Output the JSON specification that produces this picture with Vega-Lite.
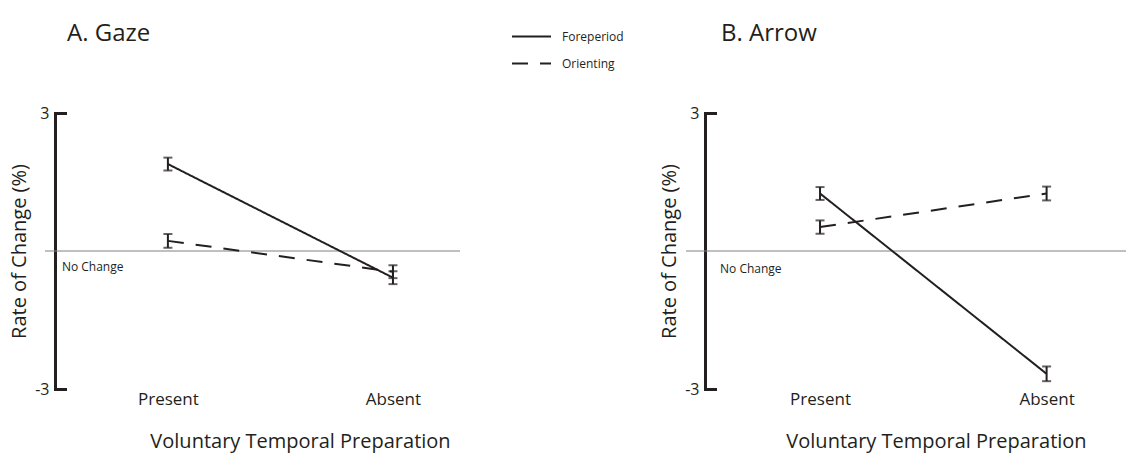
{
  "$schema": "https://vega.github.io/schema/vega-lite/v6.json",
  "background": "white",
  "padding": {"left": 9, "top": 16, "right": 0, "bottom": 3},
  "config": {
    "font": "Open Sans",
    "view": {"stroke": null},
    "concat": {"spacing": 198},
    "axisY": {
      "domainWidth": 3, "domainColor": "#231f20", "domainCap": "square",
      "tickWidth": 3, "tickColor": "#231f20", "tickSize": -10, "tickCap": "square",
      "labelPadding": 16, "labelFontSize": 16, "labelColor": "#231f20",
      "labelExpr": "replace(datum.label, '\u2212', '-')",
      "titleFontSize": 20, "titleFontWeight": "normal", "titleColor": "#231f20", "titlePadding": 5,
      "grid": false
    },
    "axisX": {
      "domain": false, "ticks": false, "labelAngle": 0, "labelFontSize": 17, "labelColor": "#231f20",
      "labelPadding": 2, "titleFontSize": 20, "titleFontWeight": "normal", "titleColor": "#231f20", "titlePadding": 24
    },
    "legend": {
      "title": null, "orient": "none", "legendX": 466, "legendY": -97, "symbolType": "stroke", "symbolSize": 1521,
      "symbolStrokeWidth": 2, "symbolStrokeColor": "#231f20", "labelFontSize": 12, "labelColor": "#231f20",
      "labelOffset": 10, "rowPadding": -4
    }
  },
  "datasets": {
    "d": [
      {"panel": "Gaze", "type": "Foreperiod", "cond": "Present", "value": 1.89, "err": 0.14},
      {"panel": "Gaze", "type": "Foreperiod", "cond": "Absent", "value": -0.58, "err": 0.14},
      {"panel": "Gaze", "type": "Orienting", "cond": "Present", "value": 0.22, "err": 0.15},
      {"panel": "Gaze", "type": "Orienting", "cond": "Absent", "value": -0.45, "err": 0.14},
      {"panel": "Arrow", "type": "Foreperiod", "cond": "Present", "value": 1.25, "err": 0.14},
      {"panel": "Arrow", "type": "Foreperiod", "cond": "Absent", "value": -2.67, "err": 0.16},
      {"panel": "Arrow", "type": "Orienting", "cond": "Present", "value": 0.52, "err": 0.145},
      {"panel": "Arrow", "type": "Orienting", "cond": "Absent", "value": 1.25, "err": 0.15}
    ]
  },
  "hconcat": [
    {
      "width": 415, "height": 276,
      "title": {"text": "A. Gaze", "anchor": "start", "frame": "group", "dx": 22, "offset": 59, "fontSize": 24, "fontWeight": "normal", "color": "#231f20"},
      "layer": [
        {
          "data": {"values": [{"ref": 0}]},
          "mark": {"type": "rule", "color": "#808080", "strokeWidth": 1},
          "encoding": {
            "y": {"field": "ref", "type": "quantitative", "scale": {"domain": [-3, 3]}, "axis": {"values": [-3, 3], "offset": -10, "title": "Rate of Change (%)"}}
          }
        },
        {
          "data": {"values": [{"label": "No Change"}]},
          "mark": {"type": "text", "align": "left", "baseline": "middle", "fontSize": 12, "color": "#231f20", "dx": -106, "dy": 16},
          "encoding": {
            "x": {"datum": "Present", "type": "nominal", "scale": {"type": "point", "domain": ["Present", "Absent"], "padding": 0.422, "align": 0.647}, "axis": {"title": "Voluntary Temporal Preparation", "titleX": 255}},
            "y": {"datum": 0, "type": "quantitative", "axis": {"values": [-3, 3], "offset": -10, "title": "Rate of Change (%)"}},
            "text": {"field": "label"}
          }
        },
        {
          "data": {"name": "d"},
          "transform": [{"filter": "datum.panel === 'Gaze'"}],
          "mark": {"type": "line", "color": "#231f20", "strokeWidth": 2},
          "encoding": {
            "x": {"field": "cond", "type": "nominal", "scale": {"type": "point", "domain": ["Present", "Absent"], "padding": 0.422, "align": 0.647}, "axis": {"title": "Voluntary Temporal Preparation", "titleX": 255}},
            "y": {"field": "value", "type": "quantitative", "axis": {"values": [-3, 3], "offset": -10, "title": "Rate of Change (%)"}},
            "strokeDash": {"field": "type", "type": "nominal", "scale": {"domain": ["Foreperiod", "Orienting"], "range": [[1, 0], [16, 12]]}}
          }
        },
        {
          "data": {"name": "d"},
          "transform": [{"filter": "datum.panel === 'Gaze'"}],
          "mark": {"type": "errorbar", "color": "#231f20", "thickness": 2, "ticks": {"size": 9, "thickness": 2}},
          "encoding": {
            "x": {"field": "cond", "type": "nominal", "scale": {"type": "point", "domain": ["Present", "Absent"], "padding": 0.422, "align": 0.647}, "axis": {"title": "Voluntary Temporal Preparation", "titleX": 255}},
            "y": {"field": "value", "type": "quantitative", "axis": {"values": [-3, 3], "offset": -10, "title": "Rate of Change (%)"}},
            "yError": {"field": "err"}
          }
        }
      ]
    },
    {
      "width": 440, "height": 276,
      "title": {"text": "B. Arrow", "anchor": "start", "frame": "group", "dx": 35, "offset": 59, "fontSize": 24, "fontWeight": "normal", "color": "#231f20"},
      "layer": [
        {
          "data": {"values": [{"ref": 0}]},
          "mark": {"type": "rule", "color": "#808080", "strokeWidth": 1},
          "encoding": {
            "y": {"field": "ref", "type": "quantitative", "scale": {"domain": [-3, 3]}, "axis": {"values": [-3, 3], "offset": -19, "title": "Rate of Change (%)"}}
          }
        },
        {
          "data": {"values": [{"label": "No Change"}]},
          "mark": {"type": "text", "align": "left", "baseline": "middle", "fontSize": 12, "color": "#231f20", "dx": -100, "dy": 18},
          "encoding": {
            "x": {"datum": "Present", "type": "nominal", "scale": {"type": "point", "domain": ["Present", "Absent"], "padding": 0.471, "align": 0.628}, "axis": {"title": "Voluntary Temporal Preparation", "titleX": 250}},
            "y": {"datum": 0, "type": "quantitative", "axis": {"values": [-3, 3], "offset": -19, "title": "Rate of Change (%)"}},
            "text": {"field": "label"}
          }
        },
        {
          "data": {"name": "d"},
          "transform": [{"filter": "datum.panel === 'Arrow'"}],
          "mark": {"type": "line", "color": "#231f20", "strokeWidth": 2},
          "encoding": {
            "x": {"field": "cond", "type": "nominal", "scale": {"type": "point", "domain": ["Present", "Absent"], "padding": 0.471, "align": 0.628}, "axis": {"title": "Voluntary Temporal Preparation", "titleX": 250}},
            "y": {"field": "value", "type": "quantitative", "axis": {"values": [-3, 3], "offset": -19, "title": "Rate of Change (%)"}},
            "strokeDash": {"field": "type", "type": "nominal", "scale": {"domain": ["Foreperiod", "Orienting"], "range": [[1, 0], [16, 12]]}}
          }
        },
        {
          "data": {"name": "d"},
          "transform": [{"filter": "datum.panel === 'Arrow'"}],
          "mark": {"type": "errorbar", "color": "#231f20", "thickness": 2, "ticks": {"size": 9, "thickness": 2}},
          "encoding": {
            "x": {"field": "cond", "type": "nominal", "scale": {"type": "point", "domain": ["Present", "Absent"], "padding": 0.471, "align": 0.628}, "axis": {"title": "Voluntary Temporal Preparation", "titleX": 250}},
            "y": {"field": "value", "type": "quantitative", "axis": {"values": [-3, 3], "offset": -19, "title": "Rate of Change (%)"}},
            "yError": {"field": "err"}
          }
        }
      ]
    }
  ]
}
